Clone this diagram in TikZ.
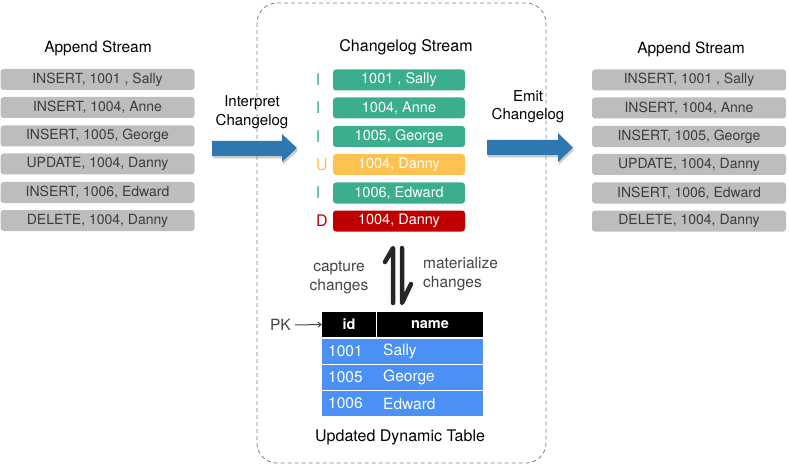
\documentclass[tikz,border=0pt]{standalone}
\usepackage{fontspec}
\setmainfont{TeX Gyre Heros}
\usetikzlibrary{arrows.meta,shadows}
\definecolor{barGray}{HTML}{BDBDBD}
\definecolor{txtGray}{HTML}{3C3C3C}
\definecolor{insGreen}{HTML}{3BAE8E}
\definecolor{updYellow}{HTML}{FFC14F}
\definecolor{delRed}{HTML}{C00000}
\definecolor{arrBlue}{HTML}{2E78B2}
\definecolor{tblBlue}{HTML}{4A90F5}
\definecolor{lblGray}{HTML}{444444}
\begin{document}
\begin{tikzpicture}[x=1pt,y=-1pt,
  graybar/.style={fill=barGray, rounded corners=3pt, minimum width=194pt, minimum height=21pt, inner sep=0pt, text=txtGray, font=\fontsize{14}{15}\selectfont},
  chbar/.style={rounded corners=3pt, minimum width=132pt, minimum height=21pt, inner sep=0pt, text=white, font=\fontsize{14.5}{16}\selectfont},
  ins/.style={chbar, fill=insGreen},
  upd/.style={chbar, fill=updYellow},
  del/.style={chbar, fill=delRed},
  optag/.style={font=\fontsize{16}{18}\selectfont, inner sep=0pt},
  title/.style={font=\fontsize{15.5}{18}\selectfont, text=black, inner sep=0pt},
  lbl/.style={font=\fontsize{15.5}{18.5}\selectfont, text=lblGray, inner sep=0pt, align=center},
  bigarrow/.style={fill=arrBlue, draw=none, drop shadow={shadow xshift=1pt, shadow yshift=-2.5pt, opacity=0.35, fill=black!60}},
  harp/.style={line width=4.5pt, draw=black!85, line cap=round, line join=round},
  hcell/.style={fill=black, text=white, font=\bfseries\fontsize{14.5}{16}\selectfont, minimum height=25pt, inner sep=0pt},
  rowcell/.style={fill=tblBlue, minimum width=161pt, minimum height=25pt, inner sep=0pt},
  celltxt/.style={text=white, font=\fontsize{15.5}{17}\selectfont, inner sep=0pt, anchor=west}
]
\useasboundingbox (0,0) rectangle (789,465);

% dashed container
\draw[gray, dash pattern=on 4pt off 3pt, line width=0.8pt, rounded corners=20pt] (257,3) rectangle (546,463);

% left append stream
\node[title] (ltitle) at (98,48) {Append Stream};
\node[graybar] (l1) at (97.5,79.5) {INSERT, 1001 , Sally};
\node[graybar] (l2) at (97.5,107.5) {INSERT, 1004, Anne};
\node[graybar] (l3) at (97.5,136) {INSERT, 1005, George};
\node[graybar] (l4) at (97.5,164) {UPDATE, 1004, Danny};
\node[graybar] (l5) at (97.5,192.5) {INSERT, 1006, Edward};
\node[graybar] (l6) at (97.5,220.5) {DELETE, 1004, Danny};

% right append stream
\node[title] (rtitle) at (691,49) {Append Stream};
\node[graybar] (r1) at (689,80) {INSERT, 1001 , Sally};
\node[graybar] (r2) at (689,108) {INSERT, 1004, Anne};
\node[graybar] (r3) at (689,136.5) {INSERT, 1005, George};
\node[graybar] (r4) at (689,164.5) {UPDATE, 1004, Danny};
\node[graybar] (r5) at (689,193) {INSERT, 1006, Edward};
\node[graybar] (r6) at (689,221) {DELETE, 1004, Danny};

% changelog stream
\node[title, font=\fontsize{16}{18}\selectfont] (ctitle) at (406,47) {Changelog Stream};
\node[ins] (c1) at (399,80) {1001 , Sally};
\node[ins] (c2) at (399,108) {1004, Anne};
\node[ins] (c3) at (399,136.5) {1005, George};
\node[upd] (c4) at (399,164.5) {1004, Danny};
\node[ins] (c5) at (399,193) {1006, Edward};
\node[del] (c6) at (399,221) {1004, Danny};
\node[optag, text=insGreen] (t1) at (318,80) {I};
\node[optag, text=insGreen] (t2) at (318,108) {I};
\node[optag, text=insGreen] (t3) at (318,136.5) {I};
\node[optag, text=updYellow] (t4) at (322,164.5) {U};
\node[optag, text=insGreen] (t5) at (318,193) {I};
\node[optag, text=delRed] (t6) at (322,221) {D};

% blue arrows
\path[bigarrow] (212,141) -- (282,141) -- (282,134) -- (297,148) -- (282,162) -- (282,156) -- (212,156) -- cycle;
\path[bigarrow] (487,140) -- (558,140) -- (558,133) -- (573,147.5) -- (558,162) -- (558,155) -- (487,155) -- cycle;
\node[title, align=center, font=\fontsize{15}{19}\selectfont] (interp) at (252,112.5) {Interpret\\Changelog};
\node[title, align=center, font=\fontsize{15}{18}\selectfont] (emit) at (528,107) {Emit\\Changelog};

% harpoons
\draw[harp] (393,303) -- (393,248) -- (385,262);
\draw[harp] (402,248) -- (402,303) -- (411,284);
\node[lbl] (capture) at (339,277.5) {capture\\changes};
\node[lbl, align=left, anchor=west] (mater) at (423,274) {materialize\\changes};

% table
\node[hcell, minimum width=54pt] (hid) at (349,324.5) {id};
\node[hcell, minimum width=106pt] (hname) at (430,324.5) {name};
\node[rowcell] (row1) at (402.5,351.5) {};
\node[rowcell] (row2) at (402.5,377.5) {};
\node[rowcell] (row3) at (402.5,403.5) {};
\node[celltxt] (id1) at (328,351.5) {1001};
\node[celltxt] (n1) at (383,351.5) {Sally};
\node[celltxt] (id2) at (328,377.5) {1005};
\node[celltxt] (n2) at (383,377.5) {George};
\node[celltxt] (id3) at (328,403.5) {1006};
\node[celltxt] (n3) at (383,403.5) {Edward};
\node[lbl, anchor=east] (pk) at (291,325) {PK};
\draw[-{Straight Barb[length=3pt,width=5pt]}, line width=1pt, draw=lblGray] (pk.east) ++(4,0) -- (hid.west);
\node[title, font=\fontsize{16}{18}\selectfont] (tbltitle) at (400,437) {Updated Dynamic Table};
\end{tikzpicture}
\end{document}
